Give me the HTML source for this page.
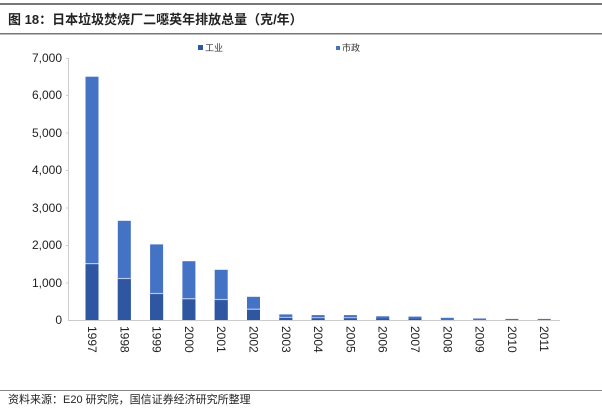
<!DOCTYPE html>
<html><head><meta charset="utf-8"><style>
body{margin:0;background:#fff;}
svg text{font-family:"Liberation Sans","Noto Sans CJK SC",sans-serif;}
</style></head><body>
<svg width="602" height="413" xmlns="http://www.w3.org/2000/svg">
<rect x="0" y="3" width="602" height="2" fill="#777"/>
<text x="8" y="24" font-size="13" font-weight="bold" fill="#222">图 18：日本垃圾焚烧厂二噁英年排放总量（克/年）</text>
<rect x="0" y="33" width="602" height="1.5" fill="#777"/>
<rect x="198" y="45" width="5" height="5" fill="#2f56a0"/>
<text x="205" y="51" font-size="9" fill="#333">工业</text>
<rect x="336" y="46" width="4" height="4" fill="#4472c4"/>
<text x="342" y="51" font-size="9" fill="#333">市政</text>
<g font-size="12" fill="#222" text-anchor="end">
<text x="62" y="62">7,000</text><text x="62" y="99">6,000</text><text x="62" y="137">5,000</text>
<text x="62" y="174">4,000</text><text x="62" y="212">3,000</text><text x="62" y="249">2,000</text>
<text x="62" y="287">1,000</text><text x="62" y="324">0</text>
</g>
<line x1="68.5" y1="58" x2="68.5" y2="320" stroke="#ccc"/>
<g stroke="#ccc"><line x1="66" y1="58.5" x2="69" y2="58.5"/><line x1="66" y1="95.5" x2="69" y2="95.5"/><line x1="66" y1="133" x2="69" y2="133"/><line x1="66" y1="170.5" x2="69" y2="170.5"/><line x1="66" y1="208" x2="69" y2="208"/><line x1="66" y1="245.5" x2="69" y2="245.5"/><line x1="66" y1="283" x2="69" y2="283"/></g>
<line x1="68" y1="320.5" x2="560" y2="320.5" stroke="#ccc"/>
<g fill="#4472c4">
<rect x="85.5" y="76.7" width="13" height="243.3"/>
<rect x="117.8" y="220.8" width="13" height="99.2"/>
<rect x="150.1" y="244.4" width="13" height="75.6"/>
<rect x="182.4" y="261.2" width="13" height="58.8"/>
<rect x="214.7" y="269.8" width="13" height="50.2"/>
<rect x="247" y="296.8" width="13" height="23.2"/>
<rect x="279.3" y="314.4" width="13" height="5.6"/>
<rect x="311.6" y="315.1" width="13" height="4.9"/>
<rect x="343.9" y="315.1" width="13" height="4.9"/>
<rect x="376.2" y="316.3" width="13" height="3.7"/>
<rect x="408.5" y="316.6" width="13" height="3.4"/>
<rect x="440.8" y="317.8" width="13" height="2.2"/>
<rect x="473.1" y="318.5" width="13" height="1.5"/>
<rect x="505.4" y="318.9" width="13" height="1.1"/>
<rect x="537.7" y="318.9" width="13" height="1.1"/>
</g>
<g fill="#2f56a0">
<rect x="85.5" y="263.9" width="13" height="56.1"/>
<rect x="117.8" y="278.8" width="13" height="41.2"/>
<rect x="150.1" y="293.8" width="13" height="26.2"/>
<rect x="182.4" y="299" width="13" height="21"/>
<rect x="214.7" y="299.8" width="13" height="20.2"/>
<rect x="247" y="309.5" width="13" height="10.5"/>
<rect x="279.3" y="317.8" width="13" height="2.2"/>
<rect x="311.6" y="318.1" width="13" height="1.9"/>
<rect x="343.9" y="318.1" width="13" height="1.9"/>
<rect x="376.2" y="318.5" width="13" height="1.5"/>
<rect x="408.5" y="318.7" width="13" height="1.3"/>
</g>
<g fill="#b8c8ea">
<rect x="85.5" y="263" width="13" height="1.2"/>
<rect x="117.8" y="277.9" width="13" height="1.2"/>
<rect x="150.1" y="292.9" width="13" height="1.2"/>
<rect x="182.4" y="298.1" width="13" height="1.2"/>
<rect x="214.7" y="298.9" width="13" height="1.2"/>
<rect x="247" y="308.6" width="13" height="1.2"/>
<rect x="279.3" y="316.9" width="13" height="1"/>
<rect x="311.6" y="317.2" width="13" height="1"/>
<rect x="343.9" y="317.2" width="13" height="1"/>
</g>
<g font-size="12" fill="#222">
<text transform="translate(88,326) rotate(90)">1997</text>
<text transform="translate(120.3,326) rotate(90)">1998</text>
<text transform="translate(152.6,326) rotate(90)">1999</text>
<text transform="translate(184.9,326) rotate(90)">2000</text>
<text transform="translate(217.2,326) rotate(90)">2001</text>
<text transform="translate(249.5,326) rotate(90)">2002</text>
<text transform="translate(281.8,326) rotate(90)">2003</text>
<text transform="translate(314.1,326) rotate(90)">2004</text>
<text transform="translate(346.4,326) rotate(90)">2005</text>
<text transform="translate(378.7,326) rotate(90)">2006</text>
<text transform="translate(411,326) rotate(90)">2007</text>
<text transform="translate(443.3,326) rotate(90)">2008</text>
<text transform="translate(475.6,326) rotate(90)">2009</text>
<text transform="translate(507.9,326) rotate(90)">2010</text>
<text transform="translate(540.2,326) rotate(90)">2011</text>
</g>
<rect x="0" y="390" width="602" height="1" fill="#888"/>
<text x="8" y="403" font-size="11" fill="#222">资料来源：E20 研究院，国信证券经济研究所整理</text>
</svg>
</body></html>
